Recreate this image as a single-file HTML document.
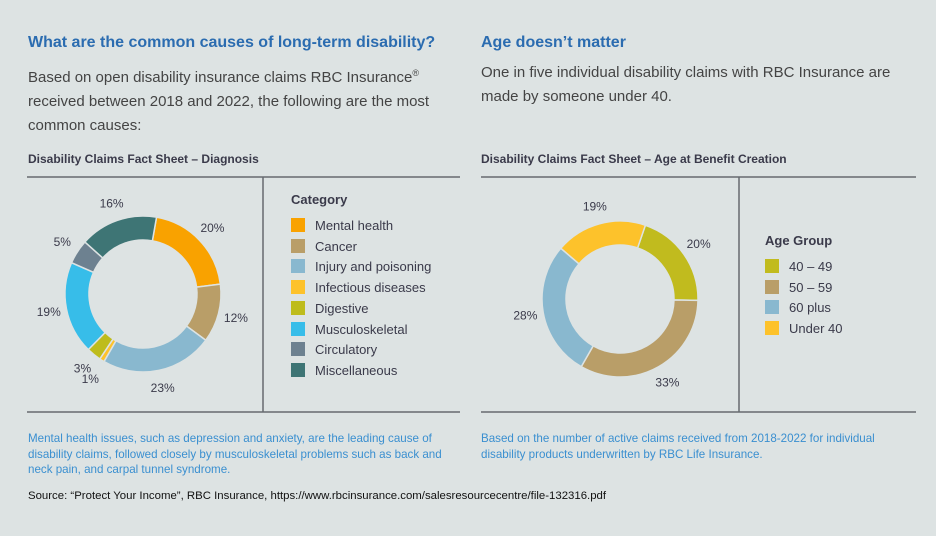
<!DOCTYPE html>
<html><head><meta charset="utf-8"><style>
body{margin:0;width:936px;height:536px;background:#dde3e3;font-family:"Liberation Sans",sans-serif;position:relative;overflow:hidden}
.a{position:absolute;white-space:nowrap}
.h{color:#2b6cb0;font-weight:bold;font-size:16px}
.p{color:#444;font-size:15px;line-height:24px}
.ct{color:#3a3a4a;font-weight:bold;font-size:12px}
.fn{color:#3a8fd0;font-size:11.6px;line-height:15.5px}
.lg{font-size:13px;color:#3a3a4a}
</style></head><body>
<div class="a h" style="left:28px;top:34px">What are the common causes of long-term disability?</div>
<div class="a p" style="left:28px;top:61px">Based on open disability insurance claims RBC Insurance<sup style="font-size:9px">®</sup><br>received between 2018 and 2022, the following are the most<br>common causes:</div>
<div class="a h" style="left:481px;top:34px">Age doesn’t matter</div>
<div class="a p" style="left:481px;top:61px">One in five individual disability claims with RBC Insurance are<br>made by someone under 40.</div>
<div class="a ct" style="left:28px;top:152px">Disability Claims Fact Sheet – Diagnosis</div>
<div class="a ct" style="left:481px;top:152px">Disability Claims Fact Sheet – Age at Benefit Creation</div>
<div class="a fn" style="left:28px;top:431px">Mental health issues, such as depression and anxiety, are the leading cause of<br>disability claims, followed closely by musculoskeletal problems such as back and<br>neck pain, and carpal tunnel syndrome.</div>
<div class="a fn" style="left:481px;top:431px">Based on the number of active claims received from 2018-2022 for individual<br>disability products underwritten by RBC Life Insurance.</div>
<div class="a" style="left:28px;top:490px;font-size:11.4px;color:#111">Source: “Protect Your Income”, RBC Insurance, https://www.rbcinsurance.com/salesresourcecentre/file-132316.pdf</div>
<svg class="a" style="left:0;top:0" width="936" height="536" id="svg">
<g stroke="#666a70" stroke-width="1.5">
<line x1="27" y1="177" x2="460" y2="177"/><line x1="27" y1="412" x2="460" y2="412"/><line x1="263" y1="177" x2="263" y2="412"/>
<line x1="481" y1="177" x2="916" y2="177"/><line x1="481" y1="412" x2="916" y2="412"/><line x1="739" y1="177" x2="739" y2="412"/>
</g>
</svg>
<script>
const diagCats=["Mental health","Cancer","Injury and poisoning","Infectious diseases","Digestive","Musculoskeletal","Circulatory","Miscellaneous"];
const diagVals=[20,12,23,1,3,19,5,16];
const diagColors=["#f9a200","#b99e68","#89b8cf","#fdc22b","#bebc1c","#37bde9","#6d8190","#3e7575"];
const ageCats=["40 – 49","50 – 59","60 plus","Under 40"];
const ageVals=[20,33,28,19];
const ageColors=["#c1bb1e","#b99e68","#89b8cf","#fdc22b"];
const svg=document.getElementById('svg');const NS="http://www.w3.org/2000/svg";
function pt(cx,cy,r,a){const t=a*Math.PI/180;return [cx+r*Math.sin(t),cy-r*Math.cos(t)];}
function donut(cx,cy,vals,colors,start,prefix){
  const tot=vals.reduce((a,b)=>a+b,0);let a=start;const R=78,r=54;
  vals.forEach((v,i)=>{const sw=v/tot*360,b=a+sw;const lg=sw>180?1:0;
    const p1=pt(cx,cy,R,a),p2=pt(cx,cy,R,b),p3=pt(cx,cy,r,b),p4=pt(cx,cy,r,a);
    const p=document.createElementNS(NS,'path');
    p.setAttribute('d',`M${p1}A${R},${R} 0 ${lg} 1 ${p2}L${p3}A${r},${r} 0 ${lg} 0 ${p4}Z`);
    p.setAttribute('fill',colors[i]);p.setAttribute('stroke','#dde3e3');p.setAttribute('stroke-width','1.5');
    
    
    svg.appendChild(p);
    const l=pt(cx,cy,v<2?100:96,a+sw/2);const t=document.createElementNS(NS,'text');
    t.setAttribute('x',l[0]);t.setAttribute('y',l[1]+4);t.setAttribute('text-anchor','middle');
    t.setAttribute('font-size','12');t.setAttribute('fill','#3a3a4a');t.setAttribute('font-family','Liberation Sans, sans-serif');
    t.textContent=v+'%';
    
    
    svg.appendChild(t);a=b;});
}
donut(143,294,diagVals,diagColors,10,'diagnosis');
donut(620,299,ageVals,ageColors,19,'age');
function legend(x,y,title,cats,colors,prefix){
  const h=document.createElement('div');h.className='a';h.style.cssText=`left:${x}px;top:${y}px;font-weight:bold;font-size:13px;color:#3a3a4a`;h.textContent=title;
  
  
  document.body.appendChild(h);
  cats.forEach((c,i)=>{const d=document.createElement('div');d.className='a lg';d.style.left=x+'px';d.style.top=(y+26+i*20.7)+'px';
    d.innerHTML=`<span style="display:inline-block;width:14px;height:14px;background:${colors[i]};vertical-align:-2px;margin-right:10px"></span>${c}`;
    
    
    document.body.appendChild(d);});
}
legend(291,192,'Category',diagCats,diagColors,'diagnosis');
legend(765,233,'Age Group',ageCats,ageColors,'age');
</script>
</body></html>
